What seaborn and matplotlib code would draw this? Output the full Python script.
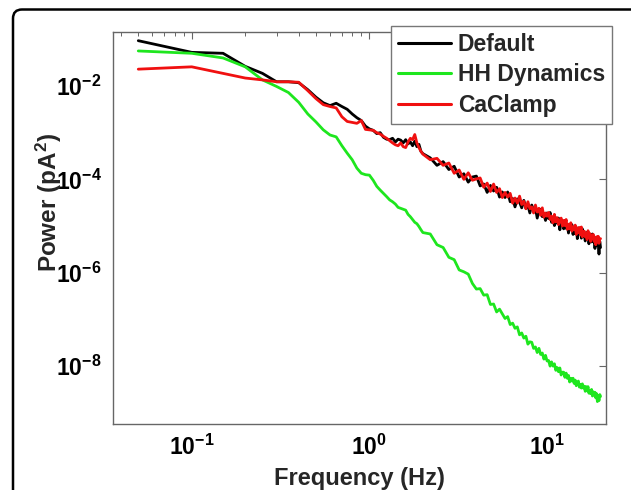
import numpy as np
import pandas as pd
import matplotlib
matplotlib.use("Agg")
import matplotlib.pyplot as plt
import seaborn as sns
from matplotlib.patches import FancyBboxPatch
from matplotlib.transforms import IdentityTransform
from matplotlib.ticker import LogLocator, NullLocator, FixedLocator, LogFormatterSciNotation, NullFormatter

# ---------------- data ----------------
series_names = ["Default", "HH Dynamics", "CaClamp"]
series_colors = ["#000000", "#1ee61e", "#f01010"]

freq_hz = [0.05, 0.10, 0.15, 0.20, 0.25, 0.30, 0.35, 0.40, 0.45, 0.50,
           0.55, 0.60, 0.65, 0.70, 0.75, 0.80, 0.85, 0.90, 0.95, 1.00,
           1.05, 1.10, 1.15, 1.20, 1.25, 1.30, 1.35, 1.40, 1.45, 1.50,
           1.55, 1.60, 1.65, 1.70, 1.75, 1.80, 1.85, 1.90, 1.95, 2.00,
           2.2, 2.4, 2.6, 2.8, 3.0, 3.2, 3.4, 3.6, 3.8, 4.0,
           4.2, 4.4, 4.6, 4.8, 5.0, 5.2, 5.4, 5.6, 5.8, 6.0,
           6.2, 6.4, 6.6, 6.8, 7.0, 7.2, 7.4, 7.6, 7.8, 8.0,
           8.2, 8.4, 8.6, 8.8, 9.0, 9.2, 9.4, 9.6, 9.8, 10.0,
           10.2, 10.4, 10.6, 10.8, 11.0, 11.2, 11.4, 11.6, 11.8, 12.0,
           12.2, 12.4, 12.6, 12.8, 13.0, 13.2, 13.4, 13.6, 13.8, 14.0,
           14.2, 14.4, 14.6, 14.8, 15.0, 15.2, 15.4, 15.6, 15.8, 16.0,
           16.2, 16.4, 16.6, 16.8, 17.0, 17.2, 17.4, 17.6, 17.8, 18.0,
           18.2, 18.4, 18.6, 18.8, 19.0, 19.2, 19.4, 19.6, 19.8, 20.0]

# log10 of power (pA^2)
default_log_power = [
    -1.03, -1.28, -1.30, -1.58, -1.73, -1.91, -1.91, -1.93, -2.08, -2.24,
    -2.36, -2.42, -2.37, -2.44, -2.50, -2.60, -2.68, -2.74, -2.86, -2.92,
    -2.95, -3.02, -3.00, -3.10, -3.14, -3.15, -3.12, -3.20, -3.14, -3.16,
    -3.22, -3.15, -3.24, -3.20, -3.28, -3.18, -3.30, -3.25, -3.40, -3.45,
    -3.54, -3.70, -3.62, -3.79, -3.72, -3.95, -3.88, -4.06, -3.95, -3.93,
    -4.14, -4.10, -4.28, -4.13, -4.25, -4.17, -4.38, -4.27, -4.39, -4.27,
    -4.48, -4.41, -4.59, -4.42, -4.49, -4.61, -4.45, -4.62, -4.56, -4.72,
    -4.55, -4.67, -4.62, -4.83, -4.67, -4.64, -4.80, -4.74, -4.88, -4.72,
    -4.84, -4.71, -4.92, -4.85, -4.99, -4.83, -4.94, -4.83, -5.08, -4.89,
    -4.94, -5.06, -4.88, -5.05, -4.98, -5.15, -4.96, -5.07, -4.97, -5.18,
    -5.04, -5.16, -5.04, -5.27, -5.04, -5.16, -5.10, -5.26, -5.06, -5.23,
    -5.17, -5.32, -5.14, -5.26, -5.13, -5.38, -5.22, -5.19, -5.34, -5.17,
    -5.34, -5.25, -5.48, -5.26, -5.41, -5.25, -5.36, -5.60, -5.33, -5.46]

hh_log_power = [
    -1.25, -1.30, -1.40, -1.59, -1.87, -2.01, -2.14, -2.35, -2.60, -2.77,
    -2.94, -3.05, -3.09, -3.28, -3.44, -3.58, -3.76, -3.87, -3.90, -3.91,
    -4.02, -4.15, -4.23, -4.30, -4.37, -4.44, -4.48, -4.53, -4.60, -4.62,
    -4.64, -4.66, -4.75, -4.80, -4.86, -4.92, -4.95, -5.01, -5.08, -5.14,
    -5.17, -5.40, -5.46, -5.67, -5.72, -5.94, -5.98, -6.03, -6.23, -6.35,
    -6.34, -6.48, -6.47, -6.68, -6.67, -6.84, -6.78, -6.88, -6.98, -6.94,
    -7.11, -7.08, -7.19, -7.16, -7.33, -7.29, -7.40, -7.36, -7.53, -7.48,
    -7.49, -7.62, -7.59, -7.71, -7.62, -7.75, -7.72, -7.85, -7.77, -7.89,
    -7.88, -8.00, -7.91, -8.00, -7.95, -8.09, -8.03, -8.12, -8.04, -8.19,
    -8.13, -8.13, -8.24, -8.15, -8.26, -8.20, -8.34, -8.26, -8.32, -8.26,
    -8.37, -8.30, -8.42, -8.35, -8.32, -8.45, -8.39, -8.47, -8.38, -8.47,
    -8.43, -8.54, -8.44, -8.53, -8.44, -8.58, -8.52, -8.59, -8.50, -8.64,
    -8.55, -8.62, -8.56, -8.68, -8.59, -8.76, -8.63, -8.74, -8.61, -8.65]

caclamp_log_power = [
    -1.64, -1.59, -1.73, -1.83, -1.87, -1.91, -1.91, -1.92, -2.10, -2.27,
    -2.40, -2.44, -2.47, -2.66, -2.76, -2.78, -2.80, -2.74, -2.93, -2.94,
    -2.95, -3.00, -3.03, -3.08, -3.12, -3.17, -3.22, -3.26, -3.28, -3.22,
    -3.30, -3.32, -3.20, -3.12, -3.15, -3.04, -3.22, -3.32, -3.40, -3.46,
    -3.58, -3.55, -3.70, -3.65, -3.87, -3.80, -4.00, -3.86, -4.02, -3.99,
    -3.97, -4.17, -4.08, -4.26, -4.10, -4.28, -4.20, -4.39, -4.28, -4.38,
    -4.30, -4.51, -4.40, -4.51, -4.36, -4.54, -4.47, -4.63, -4.48, -4.63,
    -4.59, -4.72, -4.55, -4.70, -4.62, -4.77, -4.61, -4.81, -4.72, -4.79,
    -4.71, -4.86, -4.79, -4.93, -4.75, -4.91, -4.82, -4.97, -4.89, -4.83,
    -5.00, -4.88, -4.99, -4.86, -5.07, -4.96, -5.06, -4.93, -5.11, -5.02,
    -5.08, -4.98, -5.18, -5.04, -5.14, -5.03, -5.19, -5.02, -5.23, -5.13,
    -5.11, -5.23, -5.17, -5.29, -5.10, -5.25, -5.16, -5.33, -5.19, -5.27,
    -5.18, -5.33, -5.24, -5.40, -5.23, -5.34, -5.22, -5.37, -5.27, -5.27]

x_tick_values = [0.1, 1.0, 10.0]
y_tick_values = [1e-8, 1e-6, 1e-4, 1e-2]
x_label = "Frequency (Hz)"
y_label = "Power (pA$^2$)"

# ---------------- build long table ----------------
frames = []
for name, logp in zip(series_names, [default_log_power, hh_log_power, caclamp_log_power]):
    frames.append(pd.DataFrame({"freq": freq_hz,
                                "power": np.power(10.0, np.array(logp)),
                                "series": name}))
df = pd.concat(frames, ignore_index=True)

# ---------------- style ----------------
sns.set_theme(style="white")
plt.rcParams["font.family"] = ["Liberation Sans", "DejaVu Sans"]
plt.rcParams["font.weight"] = "bold"
plt.rcParams["axes.labelweight"] = "bold"
plt.rcParams["mathtext.fontset"] = "custom"
plt.rcParams["mathtext.rm"] = "Liberation Sans:bold"
plt.rcParams["mathtext.bf"] = "Liberation Sans:bold"
plt.rcParams["mathtext.it"] = "Liberation Sans:bold:italic"
plt.rcParams["mathtext.default"] = "regular"

fig = plt.figure(figsize=(6.31, 4.90), dpi=100)
fig.patch.set_facecolor("white")
ax = fig.add_axes([112.7 / 631, 1 - 424 / 490, (605.7 - 112.7) / 631, (424 - 32) / 490])

sns.lineplot(data=df, x="freq", y="power", hue="series", hue_order=series_names,
             palette=series_colors, linewidth=2.0, estimator=None, sort=False, ax=ax)

ax.set_xscale("log")
ax.set_yscale("log")
ax.set_xlim(10 ** -1.445, 10 ** 1.330)
ax.set_ylim(10 ** -9.24, 10 ** -0.844)

ax.xaxis.set_major_locator(FixedLocator(x_tick_values))
ax.xaxis.set_minor_locator(LogLocator(base=10, subs=np.arange(2, 10), numticks=20))
ax.xaxis.set_minor_formatter(NullFormatter())
ax.xaxis.set_major_formatter(LogFormatterSciNotation())
ax.yaxis.set_major_locator(FixedLocator(y_tick_values))
ax.yaxis.set_minor_locator(NullLocator())
ax.yaxis.set_major_formatter(LogFormatterSciNotation())

ax.tick_params(which="both", direction="in", top=True, right=True,
               color="#666666", labelcolor="black", labelsize=16.5)
ax.tick_params(which="major", length=5, width=0.8, pad=8)
ax.tick_params(which="minor", length=3, width=0.7)
for lab in ax.get_xticklabels() + ax.get_yticklabels():
    lab.set_fontweight("bold")

for s in ax.spines.values():
    s.set_visible(True)
    s.set_color("#666666")
    s.set_linewidth(1.0)

ax.set_xlabel(x_label, fontsize=17, fontweight="bold")
ax.xaxis.set_label_coords(0.5, (424 - 478) / 392)
ax.xaxis.label.set_va("center")
ax.set_ylabel(y_label, fontsize=17.5, fontweight="bold")
ax.yaxis.set_label_coords((49 - 112.7) / 493, (424 - 202) / 392)
ax.yaxis.label.set_va("center")

old = ax.get_legend()
handles = old.legend_handles
labels = [t.get_text() for t in old.get_texts()]
old.remove()
for h in handles:
    h.set_linewidth(2.2)
leg = ax.legend(handles, labels, loc="upper right",
                bbox_to_anchor=(612 / 631, 1 - 25.7 / 490), bbox_transform=fig.transFigure,
                fontsize=16.5, frameon=True, fancybox=False, edgecolor="#777777",
                framealpha=1, handlelength=2.3, handletextpad=0.3, borderpad=0.3,
                labelspacing=0.33, borderaxespad=0)
leg.get_frame().set_linewidth(1.0)
for t in leg.get_texts():
    t.set_fontweight("bold")

frame = FancyBboxPatch((13, -30), 700, 480.5 + 30,
                       boxstyle="round,pad=0,rounding_size=9",
                       transform=IdentityTransform(), fill=False,
                       edgecolor="black", linewidth=1.8)
fig.add_artist(frame)

fig.savefig("out.png", dpi=100)
